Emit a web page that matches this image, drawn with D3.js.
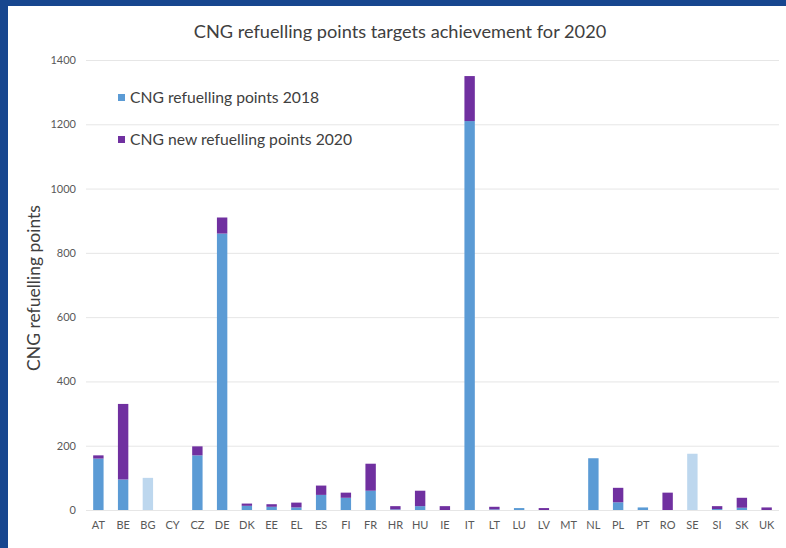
<!DOCTYPE html>
<html>
<head>
<meta charset="utf-8">
<script src="https://cdn.jsdelivr.net/npm/d3@7"></script>
<style>
	body { margin: 0; background: #fff; overflow: hidden; }
	svg { display: block; }
	text { font-family: Lato, "Noto Sans", sans-serif; }
</style>
</head>
<body>
<svg id="chart" width="786" height="548"></svg>
<script>
var countries = ["AT","BE","BG","CY","CZ","DE","DK","EE","EL","ES","FI","FR","HR","HU","IE","IT","LT","LU","LV","MT","NL","PL","PT","RO","SE","SI","SK","UK"],
	points2018 = [160, 95, 100, 0, 170, 860, 13, 10, 8, 47, 38, 60, 2, 12, 0, 1210, 2, 6, 0, 0, 161, 24, 8, 0, 175, 3, 7, 0],
	new2020 = [10, 235, 0, 0, 28, 50, 7, 8, 15, 29, 16, 84, 10, 48, 12, 140, 8, 0, 6, 0, 0, 45, 0, 54, 0, 9, 31, 8],
	lightCountries = ["BG", "SE"],
	yTicks = [0, 200, 400, 600, 800, 1000, 1200, 1400],
	seriesNames = ["CNG refuelling points 2018", "CNG new refuelling points 2020"],
	colors = ["#5b9bd5", "#7030a0"],
	lightBlue = "#bdd7ee";

var svg = d3.select("#chart");

// blue frame on top and left
svg.append("rect")
	.attr("width", 786)
	.attr("height", 6)
	.attr("fill", "#17468f");
svg.append("rect")
	.attr("width", 8)
	.attr("height", 548)
	.attr("fill", "#17468f");

var x = d3.scaleBand()
	.domain(countries)
	.range([86, 779])
	.paddingInner(0.58)
	.paddingOuter(0.29);

var y = d3.scaleLinear()
	.domain([0, 1400])
	.range([510, 60]);

//gridlines and y labels
var yAxis = svg.append("g")
	.attr("transform", "translate(86,0)")
	.call(d3.axisLeft(y).tickValues(yTicks).tickSize(-693).tickPadding(10).tickFormat(d3.format("d")));
yAxis.select(".domain").remove();
yAxis.selectAll("line").attr("stroke", "#e6e6e6");
yAxis.selectAll("text")
	.attr("fill", "#595959")
	.style("font-size", "11px");

//x labels
var xAxis = svg.append("g")
	.attr("transform", "translate(0,510)")
	.call(d3.axisBottom(x).tickSize(0).tickPadding(11));
xAxis.select(".domain").remove();
xAxis.selectAll("text")
	.attr("fill", "#595959")
	.style("font-size", "11px");

//stacked bars
var table = countries.map(function(c, i) {
	return { country: c, base: points2018[i], extra: new2020[i] };
});
var stack = d3.stack().keys(["base", "extra"])(table);

svg.append("g").selectAll("g")
	.data(stack)
	.enter()
	.append("g")
	.attr("fill", function(d, i) { return colors[i]; })
	.selectAll("rect")
	.data(function(d) { return d; })
	.enter()
	.append("rect")
	.attr("x", function(d) { return x(d.data.country); })
	.attr("width", x.bandwidth())
	.attr("y", function(d) { return y(d[1]); })
	.attr("height", function(d) { return y(d[0]) - y(d[1]); })
	.attr("fill", function(d) {
		if (lightCountries.indexOf(d.data.country) > -1) { return lightBlue; }
		return null;
	});

//title
svg.append("text")
	.attr("x", 400)
	.attr("y", 38)
	.attr("text-anchor", "middle")
	.attr("fill", "#404040")
	.style("font-size", "18.2px")
	.text("CNG refuelling points targets achievement for 2020");

//y axis title
svg.append("text")
	.attr("transform", "translate(40,288) rotate(-90)")
	.attr("text-anchor", "middle")
	.attr("fill", "#404040")
	.style("font-size", "17.5px")
	.text("CNG refuelling points");

//legend
var legend = svg.append("g").selectAll("g")
	.data(seriesNames)
	.enter()
	.append("g")
	.attr("transform", function(d, i) { return "translate(118," + (94 + i * 42) + ")"; });
legend.append("rect")
	.attr("width", 7)
	.attr("height", 7)
	.attr("fill", function(d, i) { return colors[i]; });
legend.append("text")
	.attr("x", 12)
	.attr("y", 9)
	.attr("fill", "#404040")
	.style("font-size", "15.7px")
	.text(function(d) { return d; });
</script>
</body>
</html>
